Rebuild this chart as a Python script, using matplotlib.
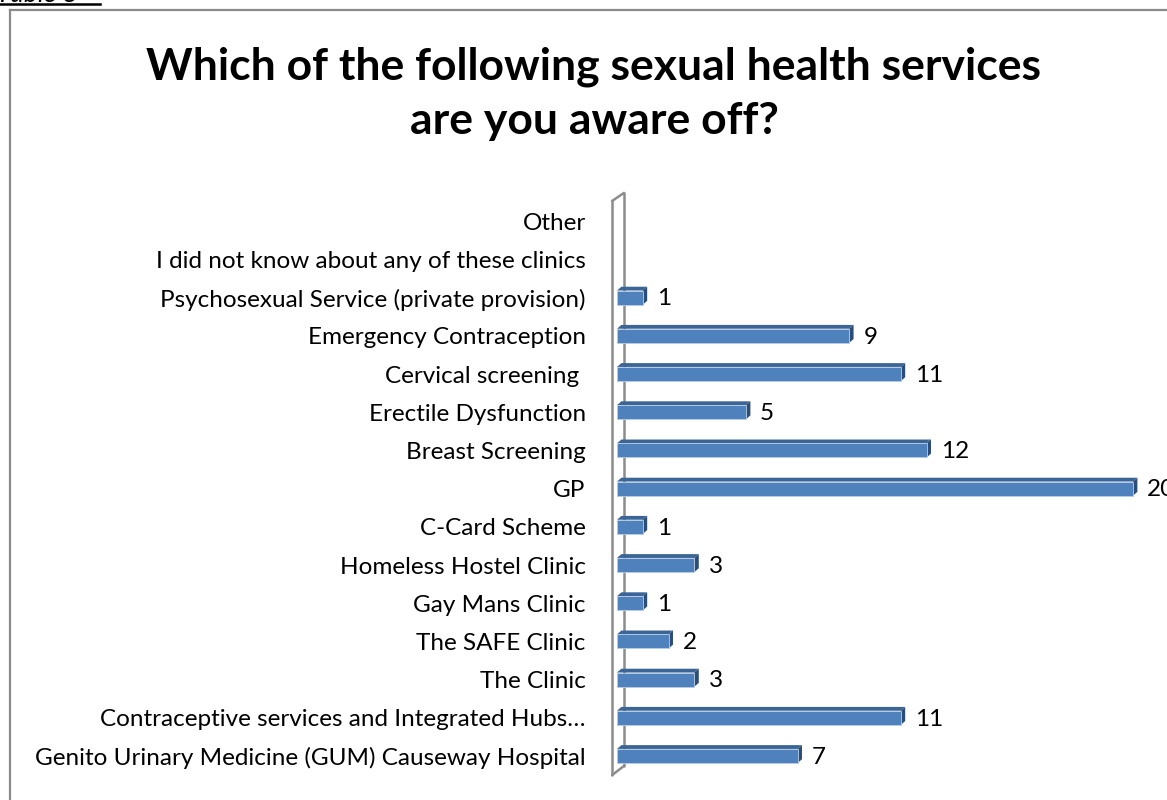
import matplotlib
matplotlib.use("Agg")
import matplotlib.pyplot as plt
from matplotlib.patches import Polygon
from matplotlib.lines import Line2D

plt.rcParams['font.family'] = ['Lato', 'DejaVu Sans']

# survey answers, bottom row first
services = [
    "Genito Urinary Medicine (GUM) Causeway Hospital",
    "Contraceptive services and Integrated Hubs\u2026",
    "The Clinic",
    "The SAFE Clinic",
    "Gay Mans Clinic",
    "Homeless Hostel Clinic",
    "C-Card Scheme",
    "GP",
    "Breast Screening",
    "Erectile Dysfunction",
    "Cervical screening ",
    "Emergency Contraception",
    "Psychosexual Service (private provision)",
    "I did not know about any of these clinics",
    "Other",
]
counts = [7, 11, 3, 2, 1, 3, 1, 20, 12, 5, 11, 9, 1, None, None]

title = "Which of the following sexual health services\nare you aware off?"

W, H = 1167, 800
fig = plt.figure(figsize=(W / 100, H / 100), dpi=100)

# plot area: 1 unit = 25.8 px in x, one row = 38.2 px in y
px_x = 25.8
px_y = 38.2
x0_pix = 617          # where value 0 sits
y0_pix = 756          # centre of first row, from top
xmin, xmax = -0.3, 21.5
ymin, ymax = -0.6, 14.8
left = (x0_pix + xmin * px_x) / W
width = (xmax - xmin) * px_x / W
bottom = (H - y0_pix + ymin * px_y) / H
height = (ymax - ymin) * px_y / H
ax = fig.add_axes([left, bottom, width, height])
ax.set_xlim(xmin, xmax)
ax.set_ylim(ymin, ymax)
for s in ax.spines.values():
    s.set_visible(False)
ax.set_xticks([])

label_size = 17.5
ypos = list(range(len(services)))
ax.set_yticks(ypos)
ax.set_yticklabels(services, fontsize=label_size, color='black')
ax.tick_params(axis='y', length=0, pad=17)

# back wall of the 3d chart
dx, dy = 0.17, 0.1
wall_x0, wall_x1 = -0.19, 0.27
wall = [
    [(wall_x0, -0.5), (wall_x0, 14.53)],
    [(wall_x0, 14.53), (wall_x1, 14.74)],
    [(wall_x1, 14.74), (wall_x1, -0.26)],
    [(wall_x1, -0.26), (wall_x0, -0.5)],
]
for seg in wall:
    (xa, ya), (xb, yb) = seg
    ax.plot([xa, xb], [ya, yb], color='#8c8c8c', lw=1.8, clip_on=False,
            zorder=1, solid_capstyle='round')

front = '#4f81bd'
top_c = '#3b6596'
side_c = '#2c4d75'
h = 0.37
for y, v in zip(ypos, counts):
    if v is None:
        continue
    b = y - h / 2
    t = y + h / 2
    ax.add_patch(Polygon([(0, t), (v, t), (v + dx, t + dy), (dx, t + dy)],
                         closed=True, facecolor=top_c, edgecolor='none',
                         zorder=3, clip_on=False))
    ax.add_patch(Polygon([(v, b), (v + dx, b + dy), (v + dx, t + dy), (v, t)],
                         closed=True, facecolor=side_c, edgecolor='none',
                         zorder=3, clip_on=False))
    ax.barh(y, v, height=h, left=0, color=front, edgecolor='#b9cde5',
            linewidth=0.6, zorder=4, clip_on=False)
    ax.annotate(str(v), (v + dx, y), xytext=(7, -1), textcoords='offset points',
                va='center', ha='left', fontsize=label_size, color='black',
                annotation_clip=False)

fig.text(594 / W, 1 - 94 / H, title, ha='center', va='center',
         fontsize=32, fontweight='bold', linespacing=1.42)

# outer frame of the chart object
frame_c = '#8a8a8a'
fig.add_artist(Line2D([10 / W, 1], [1 - 10 / H, 1 - 10 / H],
                      transform=fig.transFigure, color=frame_c, lw=1.6))
fig.add_artist(Line2D([10 / W, 10 / W], [0, 1 - 10 / H],
                      transform=fig.transFigure, color=frame_c, lw=1.6))

# caption above the frame, mostly cut off
fig.text(-4 / W, 1 - 1.5 / H, "Table 8", ha='left', va='baseline',
         fontsize=19, style='italic')
fig.add_artist(Line2D([0, 100 / W], [1 - 4 / H, 1 - 4 / H],
                      transform=fig.transFigure, color='black', lw=1.8))

fig.savefig("out.png", dpi=100)
